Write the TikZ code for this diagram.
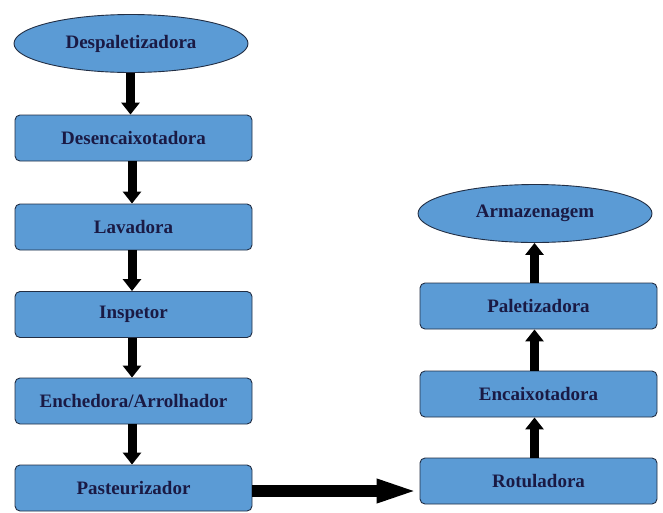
\documentclass[tikz,border=0pt]{standalone}
\usepackage{fontspec}
\setmainfont{Liberation Serif}
\usetikzlibrary{shapes.geometric,arrows.meta}
\definecolor{boxblue}{HTML}{5B9BD5}
\definecolor{boxline}{HTML}{222E44}
\definecolor{txtnavy}{HTML}{1A1A44}
\tikzset{
  stagebox/.style={rectangle, rounded corners=5pt, draw=boxline, fill=boxblue,
    line width=0.9pt, minimum width=237pt, minimum height=46pt,
    text=txtnavy, font=\fontsize{19}{21}\selectfont\bfseries, inner sep=0pt},
  stageell/.style={ellipse, draw=boxline, fill=boxblue, line width=0.9pt,
    minimum width=234pt, minimum height=58pt, inner sep=0pt,
    text=txtnavy, font=\fontsize{19}{21}\selectfont\bfseries},
  vflow/.style={draw=black, line width=9pt, -{Triangle[length=12pt,width=18pt]}},
  hflow/.style={draw=black, line width=12pt, -{Triangle[length=43pt,width=21pt]}}
}
\begin{document}
\begin{tikzpicture}[x=1pt,y=-1pt]
\useasboundingbox (0,0) rectangle (663,512);
\node[stageell] (desp) at (131,43.5) {Despaletizadora};
\node[stagebox] (desenc) at (133.5,138) {Desencaixotadora};
\node[stagebox] (lav) at (133.5,227) {Lavadora};
\node[stagebox] (insp) at (133.5,314.5) {Inspetor};
\node[stagebox] (ench) at (133.5,401) {Enchedora/Arrolhador};
\node[stagebox] (past) at (133.5,488) {Pasteurizador};
\node[stageell] (arm) at (535,213.5) {Armazenagem};
\node[stagebox] (pal) at (538.5,306) {Paletizadora};
\node[stagebox] (enc) at (538.5,394) {Encaixotadora};
\node[stagebox] (rot) at (538.5,481) {Rotuladora};

\draw[vflow] ([xshift=-0.5pt]desp.south) -- ([xshift=-0.5pt]desp.south |- desenc.north);
\draw[vflow] ([xshift=-1.5pt]desenc.south) -- ([xshift=-1.5pt]lav.north);
\draw[vflow] ([xshift=-1.5pt]lav.south) -- ([xshift=-1.5pt]insp.north);
\draw[vflow] ([xshift=-1.5pt]insp.south) -- ([xshift=-1.5pt]ench.north);
\draw[vflow] ([xshift=-1.5pt]ench.south) -- ([xshift=-1.5pt]past.north);
\draw[hflow] ([yshift=-3pt]past.east) -- ([yshift=-3pt]past.east -| rot.west);
\draw[vflow] ([xshift=-4pt]rot.north) -- ([xshift=-4pt]enc.south);
\draw[vflow] ([xshift=-4pt]enc.north) -- ([xshift=-4pt]pal.south);
\draw[vflow] ([xshift=-4pt]pal.north) -- ([xshift=-4pt]pal.north |- arm.south);
\end{tikzpicture}
\end{document}
